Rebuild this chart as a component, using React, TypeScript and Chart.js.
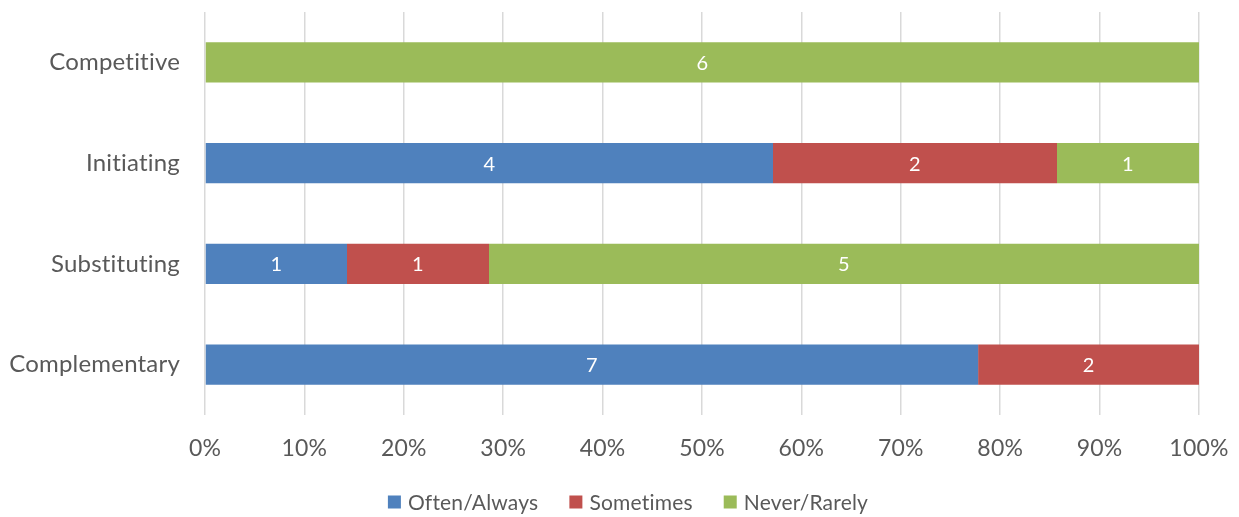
import React, { useEffect, useRef } from "react";
import { Chart, registerables } from "chart.js";

Chart.register(...registerables);

const categories = ["Competitive", "Initiating", "Substituting", "Complementary"];
const oftenAlways = [0, 4, 1, 7];
const sometimes = [0, 2, 1, 2];
const neverRarely = [6, 1, 5, 0];
const seriesNames = ["Often/Always", "Sometimes", "Never/Rarely"];
const seriesColors = ["#4F81BD", "#C0504D", "#9BBB59"];
const xTicks = [0, 10, 20, 30, 40, 50, 60, 70, 80, 90, 100];

const FONT = "Lato, 'Open Sans', sans-serif";
const TEXT = "#595959";

const totals = categories.map((_, i) => oftenAlways[i] + sometimes[i] + neverRarely[i]);
const toPct = (arr: number[]) => arr.map((v, i) => (v / totals[i]) * 100);

const noLigaturePlugin = {
  id: "noLigatures",
  beforeDraw(chart: any) {
    const ctx = chart.ctx as any;
    if ("letterSpacing" in ctx) ctx.letterSpacing = "0.2px";
  },
};

const labelPlugin = {
  id: "barLabels",
  afterDatasetsDraw(chart: any) {
    const ctx = chart.ctx;
    ctx.save();
    ctx.fillStyle = "#FFFFFF";
    ctx.font = `20px ${FONT}`;
    ctx.textAlign = "center";
    ctx.textBaseline = "middle";
    chart.data.datasets.forEach((ds: any, di: number) => {
      const meta = chart.getDatasetMeta(di);
      meta.data.forEach((bar: any, i: number) => {
        const raw = ds.counts[i];
        if (!raw) return;
        const x = (bar.x + bar.base) / 2;
        ctx.fillText(String(raw), x, bar.y + 1);
      });
    });
    ctx.restore();
  },
};

const legendPlugin = {
  id: "customLegend",
  afterDraw(chart: any) {
    const ctx = chart.ctx;
    const box = 13;
    const gap = 7;
    const spacing = 31;
    const y = 502;
    ctx.save();
    ctx.font = `21px ${FONT}`;
    ctx.textBaseline = "middle";
    const items = chart.data.datasets.map((ds: any) => ({
      label: ds.label,
      color: ds.backgroundColor,
      w: box + gap + ctx.measureText(ds.label).width,
    }));
    const total = items.reduce((s: number, it: any) => s + it.w, 0) + spacing * (items.length - 1);
    let x = 628 - total / 2;
    items.forEach((it: any) => {
      ctx.fillStyle = it.color;
      ctx.fillRect(x, y - box / 2, box, box);
      ctx.fillStyle = TEXT;
      ctx.textAlign = "left";
      ctx.fillText(it.label, x + box + gap, y + 1);
      x += it.w + spacing;
    });
    ctx.restore();
  },
};

export default function App() {
  const ref = useRef<HTMLCanvasElement | null>(null);
  useEffect(() => {
    document.body.style.margin = "0";
    const counts = [oftenAlways, sometimes, neverRarely];
    const chart = new Chart(ref.current as HTMLCanvasElement, {
      type: "bar",
      data: {
        labels: categories,
        datasets: counts.map((c, k) => ({
          label: seriesNames[k],
          data: toPct(c),
          counts: c,
          backgroundColor: seriesColors[k],
          borderWidth: 0,
          categoryPercentage: 1,
          barPercentage: 0.4,
        })) as any,
      },
      options: {
        indexAxis: "y",
        animation: false,
        responsive: false,
        maintainAspectRatio: false,
        layout: { padding: { top: 12, right: 40, bottom: 42, left: 0 } },
        plugins: {
          tooltip: { enabled: false },
          legend: { display: false },
        },
        scales: {
          x: {
            stacked: true,
            min: 0,
            max: 100,
            afterBuildTicks(scale: any) {
              scale.ticks = xTicks.map((v) => ({ value: v }));
            },
            afterFit(scale: any) {
              scale.height = 60;
              scale.paddingLeft = 0;
              scale.paddingRight = 0;
            },
            ticks: {
              callback: (v: any) => `${v}%`,
              font: { family: FONT, size: 23 },
              color: TEXT,
              padding: 20,
              maxRotation: 0,
            },
            grid: { color: "#D9D9D9", lineWidth: 1.5, drawTicks: false },
            border: { display: false },
          },
          y: {
            stacked: true,
            afterFit(scale: any) {
              scale.width = 205;
              scale.paddingTop = 0;
              scale.paddingBottom = 0;
            },
            ticks: {
              font: { family: FONT, size: 24 },
              color: TEXT,
              padding: 25,
            },
            grid: { display: false, drawTicks: false },
            border: { display: false },
          },
        },
      },
      plugins: [noLigaturePlugin, labelPlugin, legendPlugin],
    });
    return () => chart.destroy();
  }, []);
  return (
    <div style={{ width: 1239, height: 517 }}>
      <canvas ref={ref} width={1239} height={517} style={{ width: 1239, height: 517 }} />
    </div>
  );
}
